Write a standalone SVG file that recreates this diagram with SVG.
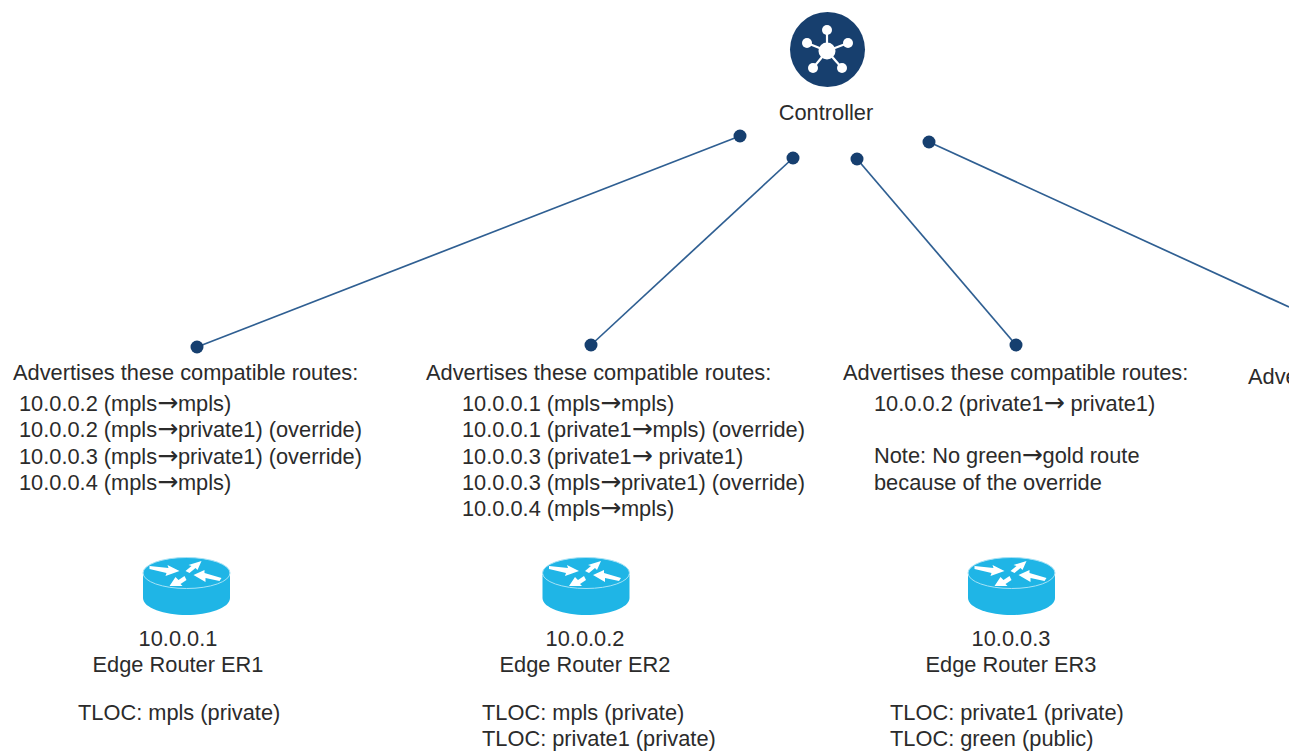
<svg xmlns="http://www.w3.org/2000/svg" xmlns:xlink="http://www.w3.org/1999/xlink" width="1289" height="752" viewBox="0 0 1289 752">
<style>
text{font-family:"Liberation Sans",Arial,sans-serif;font-size:21.8px;fill:#2b2b2b}
.m{text-anchor:middle}
.c{fill:none;stroke:#2f5f92;stroke-width:1.7}
.d{fill:#163f6f}
.a{font-family:"DejaVu Sans",sans-serif;font-size:25px;letter-spacing:-0.2px}
</style>
<defs>
<g id="router">
<path d="M-43.500 2V25C-43.500 35-22 42 0 42S43.500 35 43.500 25V2Z" fill="#1fb5e6"/>
<ellipse cx="0" cy="0" rx="43.500" ry="15.500" fill="#1fb5e6" stroke="#a5e2f6" stroke-width="1"/>
<path d="M-37-7-18-5-19-8-7-2-21 3-20 0-37-4Z M-1-2 5-7 2-8 15-12 11-3 9-5 3 0Z M35 5 18 0 18-3 7 2 19 9 19 5 33 8Z M-2 3-8 7-11 4-17 13-4 13-6 11 0 7Z" fill="#fff"/>
</g>
</defs>
<rect width="1289" height="752" fill="#fff"/>
<g id="connectors">
<line class="c" x1="740" y1="136" x2="197" y2="347"/>
<line class="c" x1="793" y1="158" x2="591" y2="345"/>
<line class="c" x1="857" y1="159" x2="1016" y2="345"/>
<line class="c" x1="929" y1="142" x2="1289" y2="307"/>
<circle class="d" cx="740" cy="136" r="6.500"/><circle class="d" cx="197" cy="347" r="6.500"/>
<circle class="d" cx="793" cy="158" r="6.500"/><circle class="d" cx="591" cy="345" r="6.500"/>
<circle class="d" cx="857" cy="159" r="6.500"/><circle class="d" cx="1016" cy="345" r="6.500"/>
<circle class="d" cx="929" cy="142" r="6.500"/>
</g>
<g id="controller">
<circle cx="827.500" cy="49.500" r="37.500" fill="#173f6e"/>
<g stroke="#fff" stroke-width="2.200"><line x1="827" y1="51" x2="827" y2="30"/><line x1="827" y1="51" x2="807" y2="43"/><line x1="827" y1="51" x2="848" y2="43"/><line x1="827" y1="51" x2="813" y2="68"/><line x1="827" y1="51" x2="842" y2="68"/></g>
<g fill="#fff"><circle cx="827" cy="51" r="8.500"/><circle cx="827" cy="30" r="5"/><circle cx="807" cy="43" r="5"/><circle cx="848" cy="43" r="5"/><circle cx="813" cy="68" r="5"/><circle cx="842" cy="68" r="5"/></g>
<text class="m" x="826" y="120">Controller</text>
</g>
<g id="er1">
<use xlink:href="#router" x="186.500" y="573"/>
<text x="13" y="380">Advertises these compatible routes:</text>
<text x="19" y="411">10.0.0.2 (mpls<tspan class="a">→</tspan>mpls)</text>
<text x="19" y="437">10.0.0.2 (mpls<tspan class="a">→</tspan>private1) (override)</text>
<text x="19" y="464">10.0.0.3 (mpls<tspan class="a">→</tspan>private1) (override)</text>
<text x="19" y="490">10.0.0.4 (mpls<tspan class="a">→</tspan>mpls)</text>
<text class="m" x="178" y="646">10.0.0.1</text>
<text class="m" x="178" y="672">Edge Router ER1</text>
<text x="78" y="720">TLOC: mpls (private)</text>
</g>
<g id="er2">
<use xlink:href="#router" x="586" y="573"/>
<text x="426" y="380">Advertises these compatible routes:</text>
<text x="462" y="411">10.0.0.1 (mpls<tspan class="a">→</tspan>mpls)</text>
<text x="462" y="437">10.0.0.1 (private1<tspan class="a">→</tspan>mpls) (override)</text>
<text x="462" y="464">10.0.0.3 (private1<tspan class="a">→</tspan> private1)</text>
<text x="462" y="490">10.0.0.3 (mpls<tspan class="a">→</tspan>private1) (override)</text>
<text x="462" y="516">10.0.0.4 (mpls<tspan class="a">→</tspan>mpls)</text>
<text class="m" x="585" y="646">10.0.0.2</text>
<text class="m" x="585" y="672">Edge Router ER2</text>
<text x="482" y="720">TLOC: mpls (private)</text>
<text x="482" y="746">TLOC: private1 (private)</text>
</g>
<g id="er3">
<use xlink:href="#router" x="1011.500" y="573"/>
<text x="843" y="380">Advertises these compatible routes:</text>
<text x="874" y="411">10.0.0.2 (private1<tspan class="a">→</tspan> private1)</text>
<text x="874" y="463">Note: No green<tspan class="a">→</tspan>gold route</text>
<text x="874" y="490">because of the override</text>
<text class="m" x="1011" y="646">10.0.0.3</text>
<text class="m" x="1011" y="672">Edge Router ER3</text>
<text x="890" y="720">TLOC: private1 (private)</text>
<text x="890" y="746">TLOC: green (public)</text>
</g>
<g id="er4">
<text x="1248" y="384">Advertises these compatible routes:</text>
</g>
</svg>
